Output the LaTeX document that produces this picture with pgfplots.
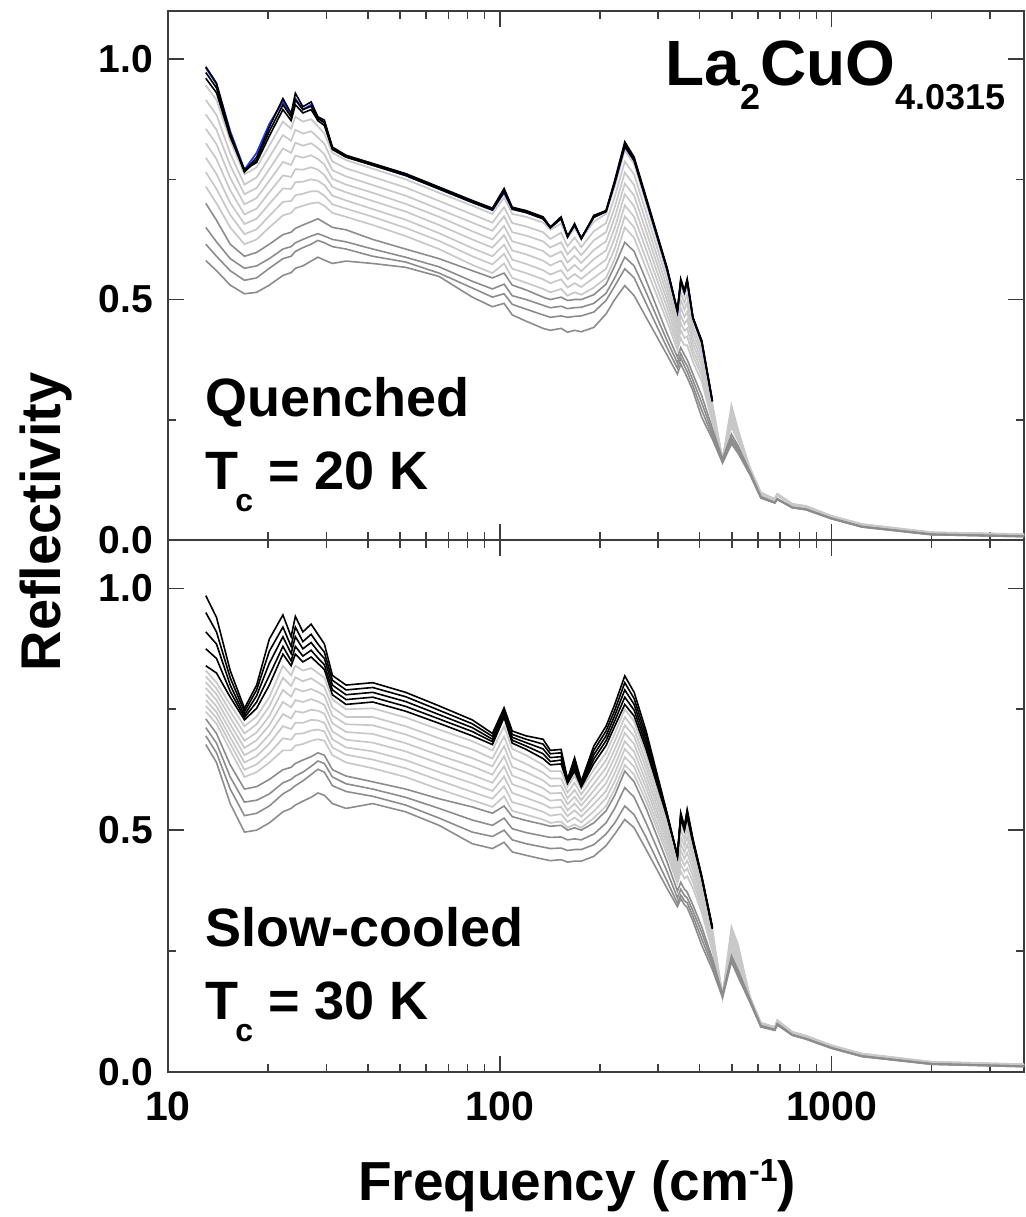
\documentclass[border=0pt]{standalone}
\usepackage{pgfplots}
\pgfplotsset{compat=1.18}
\usepackage{pgfplotstable}
\usepackage{fontspec}
\setmainfont{Liberation Sans}
\definecolor{lg}{RGB}{200,200,200}
\definecolor{dg}{RGB}{140,140,140}
\definecolor{axc}{RGB}{60,60,60}
\definecolor{blu}{RGB}{30,60,230}

\pgfplotstableread{
f k1 k2 k3 bl g1 g2 g3 g4 g5 g6 g7 g8 d1 d2 d3 d4
13 0.984 0.972 0.960 0.982 0.945 0.915 0.885 0.855 0.825 0.795 0.765 0.735 0.700 0.650 0.615 0.581
14 0.950 0.940 0.930 0.948 0.915 0.884 0.853 0.823 0.792 0.761 0.730 0.700 0.665 0.620 0.590 0.560
15.4 0.846 0.842 0.838 0.850 0.830 0.804 0.779 0.753 0.727 0.701 0.676 0.650 0.615 0.585 0.560 0.530
17 0.767 0.765 0.770 0.770 0.760 0.739 0.719 0.698 0.677 0.657 0.636 0.615 0.590 0.565 0.540 0.512
18.5 0.796 0.790 0.785 0.805 0.775 0.754 0.732 0.711 0.689 0.668 0.646 0.625 0.598 0.570 0.545 0.515
20.2 0.859 0.850 0.840 0.865 0.820 0.796 0.771 0.747 0.723 0.699 0.674 0.650 0.615 0.585 0.565 0.530
22.2 0.918 0.905 0.895 0.912 0.870 0.842 0.814 0.786 0.758 0.731 0.703 0.675 0.635 0.605 0.585 0.550
23.5 0.887 0.880 0.872 0.880 0.855 0.830 0.805 0.780 0.755 0.730 0.705 0.680 0.640 0.610 0.590 0.556
24.2 0.929 0.915 0.905 0.918 0.880 0.853 0.826 0.799 0.771 0.744 0.717 0.690 0.648 0.618 0.600 0.565
25.5 0.901 0.895 0.888 0.895 0.870 0.845 0.820 0.795 0.770 0.745 0.720 0.695 0.655 0.625 0.608 0.570
27 0.911 0.902 0.895 0.905 0.875 0.850 0.825 0.800 0.775 0.750 0.725 0.700 0.662 0.632 0.615 0.580
28.3 0.880 0.876 0.872 0.878 0.860 0.837 0.815 0.792 0.770 0.747 0.725 0.702 0.668 0.637 0.623 0.588
29.6 0.873 0.868 0.862 0.868 0.845 0.824 0.802 0.781 0.759 0.738 0.716 0.695 0.660 0.632 0.618 0.582
31.3 0.817 0.815 0.812 0.815 0.805 0.787 0.769 0.751 0.734 0.716 0.698 0.680 0.650 0.625 0.610 0.575
34.4 0.800 0.798 0.796 0.797 0.790 0.773 0.756 0.739 0.723 0.706 0.689 0.672 0.645 0.620 0.605 0.580
41.4 0.783 0.781 0.779 0.780 0.772 0.755 0.738 0.722 0.705 0.688 0.672 0.655 0.625 0.605 0.590 0.575
52 0.762 0.760 0.758 0.758 0.750 0.733 0.716 0.699 0.683 0.666 0.649 0.632 0.605 0.588 0.578 0.567
65.6 0.734 0.732 0.730 0.730 0.722 0.705 0.688 0.672 0.655 0.638 0.622 0.605 0.585 0.568 0.555 0.548
82.6 0.706 0.704 0.702 0.702 0.695 0.677 0.660 0.642 0.625 0.607 0.590 0.572 0.560 0.538 0.524 0.505
95 0.690 0.688 0.686 0.686 0.678 0.660 0.643 0.625 0.608 0.590 0.573 0.555 0.545 0.522 0.505 0.485
103 0.731 0.727 0.724 0.722 0.712 0.692 0.673 0.653 0.634 0.614 0.595 0.575 0.555 0.532 0.512 0.492
109 0.692 0.690 0.688 0.688 0.678 0.659 0.640 0.621 0.602 0.583 0.564 0.545 0.530 0.508 0.490 0.468
120 0.685 0.683 0.681 0.681 0.672 0.652 0.633 0.613 0.594 0.574 0.555 0.535 0.520 0.500 0.480 0.455
135 0.672 0.670 0.668 0.668 0.660 0.640 0.621 0.601 0.581 0.561 0.542 0.522 0.505 0.488 0.468 0.440
142 0.651 0.650 0.649 0.650 0.645 0.626 0.608 0.589 0.571 0.552 0.534 0.515 0.500 0.483 0.463 0.436
153 0.672 0.670 0.668 0.668 0.658 0.639 0.619 0.600 0.581 0.561 0.542 0.522 0.505 0.486 0.466 0.440
160 0.630 0.631 0.632 0.632 0.628 0.611 0.594 0.577 0.559 0.542 0.525 0.508 0.498 0.481 0.463 0.432
168 0.658 0.656 0.654 0.655 0.648 0.629 0.610 0.591 0.572 0.553 0.534 0.515 0.500 0.483 0.465 0.436
176 0.626 0.627 0.628 0.628 0.625 0.609 0.592 0.576 0.559 0.543 0.526 0.510 0.500 0.484 0.466 0.433
192 0.675 0.673 0.671 0.671 0.662 0.642 0.623 0.603 0.584 0.564 0.545 0.525 0.510 0.492 0.474 0.442
209 0.685 0.684 0.683 0.683 0.678 0.659 0.640 0.621 0.602 0.583 0.564 0.545 0.532 0.513 0.498 0.470
222 0.748 0.745 0.742 0.742 0.735 0.714 0.692 0.671 0.649 0.628 0.606 0.585 0.570 0.545 0.528 0.500
238 0.828 0.823 0.818 0.818 0.810 0.787 0.764 0.741 0.719 0.696 0.673 0.650 0.619 0.588 0.564 0.529
254 0.796 0.792 0.789 0.789 0.782 0.760 0.738 0.716 0.694 0.672 0.650 0.628 0.600 0.570 0.545 0.508
276 0.713 0.710 0.707 0.707 0.700 0.681 0.661 0.642 0.623 0.604 0.584 0.565 0.540 0.515 0.492 0.463
319 0.567 0.565 0.563 0.563 0.555 0.541 0.526 0.512 0.498 0.484 0.469 0.455 0.430 0.415 0.400 0.385
343 0.477 0.476 0.475 0.475 0.470 0.459 0.449 0.438 0.427 0.416 0.406 0.395 0.380 0.368 0.357 0.345
351 0.543 0.540 0.537 0.537 0.530 0.514 0.499 0.483 0.467 0.451 0.436 0.420 0.400 0.388 0.378 0.366
360 0.519 0.517 0.515 0.515 0.508 0.493 0.479 0.464 0.449 0.435 0.420 0.405 0.385 0.372 0.362 0.350
367 0.543 0.540 0.537 0.537 0.528 0.510 0.493 0.475 0.458 0.440 0.423 0.405 0.375 0.362 0.350 0.338
382 0.463 0.462 0.461 0.461 0.458 0.445 0.433 0.420 0.408 0.395 0.383 0.370 0.345 0.332 0.320 0.310
406 0.415 0.413 0.411 0.411 0.405 0.394 0.384 0.373 0.362 0.351 0.341 0.330 0.300 0.285 0.270 0.255
437 0.290 0.289 0.288 0.288 0.285 0.279 0.274 0.268 0.262 0.256 0.251 0.245 0.232 0.224 0.216 0.210
469 0.158 0.160 0.162 0.162 0.165 0.166 0.167 0.168 0.169 0.170 0.171 0.172 0.168 0.165 0.162 0.160
499 0.296 0.290 0.285 0.285 0.280 0.274 0.267 0.261 0.254 0.248 0.241 0.235 0.220 0.212 0.206 0.200
523 0.234 0.232 0.230 0.230 0.228 0.225 0.221 0.218 0.215 0.212 0.208 0.205 0.195 0.190 0.185 0.180
569 0.144 0.144 0.144 0.144 0.145 0.145 0.146 0.146 0.147 0.147 0.148 0.148 0.140 0.138 0.136 0.134
612 0.088 0.089 0.090 0.090 0.092 0.093 0.094 0.095 0.096 0.097 0.098 0.099 0.090 0.089 0.088 0.087
674 0.081 0.081 0.081 0.081 0.082 0.082 0.083 0.083 0.084 0.084 0.085 0.085 0.078 0.078 0.077 0.077
686 0.092 0.092 0.091 0.091 0.093 0.093 0.094 0.094 0.095 0.095 0.096 0.096 0.086 0.085 0.085 0.084
761 0.071 0.071 0.071 0.071 0.072 0.072 0.073 0.073 0.074 0.074 0.075 0.075 0.068 0.068 0.067 0.067
837 0.067 0.067 0.067 0.067 0.067 0.068 0.068 0.069 0.069 0.070 0.070 0.071 0.064 0.064 0.063 0.063
1000 0.046 0.046 0.046 0.046 0.047 0.047 0.048 0.048 0.049 0.049 0.050 0.050 0.045 0.045 0.044 0.044
1234 0.029 0.029 0.029 0.029 0.030 0.030 0.031 0.031 0.032 0.032 0.033 0.033 0.028 0.028 0.027 0.027
2000 0.012 0.012 0.012 0.012 0.013 0.013 0.014 0.014 0.015 0.015 0.016 0.016 0.012 0.012 0.011 0.011
3800 0.008 0.008 0.008 0.008 0.009 0.009 0.010 0.010 0.011 0.011 0.012 0.012 0.008 0.008 0.007 0.007
}\toptab

\pgfplotstableread{
f k1 k2 k3 k4 k5 g1 g2 g3 g4 g5 g6 g7 g8 d1 d2 d3 d4
13 0.985 0.950 0.910 0.875 0.840 0.830 0.818 0.806 0.794 0.781 0.769 0.757 0.745 0.730 0.712 0.695 0.677
14 0.940 0.910 0.885 0.855 0.825 0.805 0.793 0.781 0.769 0.756 0.744 0.732 0.720 0.700 0.680 0.660 0.640
15.4 0.830 0.815 0.800 0.787 0.775 0.760 0.746 0.733 0.719 0.706 0.692 0.679 0.665 0.635 0.610 0.585 0.555
17 0.752 0.745 0.738 0.733 0.728 0.715 0.700 0.685 0.670 0.655 0.640 0.625 0.610 0.585 0.558 0.530 0.496
18.5 0.800 0.790 0.778 0.765 0.752 0.735 0.719 0.702 0.686 0.669 0.653 0.636 0.620 0.590 0.562 0.535 0.500
20.2 0.895 0.870 0.845 0.820 0.800 0.775 0.756 0.736 0.717 0.698 0.679 0.659 0.640 0.605 0.575 0.550 0.515
22.2 0.945 0.920 0.900 0.880 0.864 0.840 0.815 0.790 0.765 0.740 0.715 0.690 0.665 0.625 0.598 0.575 0.538
23.5 0.900 0.880 0.865 0.850 0.840 0.820 0.798 0.776 0.754 0.731 0.709 0.687 0.665 0.630 0.605 0.585 0.545
24.2 0.942 0.920 0.900 0.880 0.864 0.840 0.816 0.793 0.769 0.746 0.722 0.699 0.675 0.638 0.612 0.592 0.552
25.5 0.910 0.890 0.875 0.860 0.848 0.830 0.808 0.787 0.765 0.743 0.722 0.700 0.678 0.645 0.620 0.602 0.560
27 0.926 0.905 0.888 0.872 0.858 0.835 0.814 0.792 0.771 0.749 0.728 0.706 0.685 0.652 0.632 0.615 0.568
28.3 0.905 0.885 0.870 0.856 0.845 0.825 0.805 0.786 0.766 0.747 0.727 0.708 0.688 0.660 0.643 0.626 0.577
29.6 0.885 0.868 0.855 0.842 0.832 0.815 0.796 0.778 0.759 0.741 0.722 0.704 0.685 0.655 0.638 0.620 0.572
31.3 0.820 0.810 0.800 0.790 0.780 0.770 0.754 0.737 0.721 0.704 0.688 0.671 0.655 0.625 0.610 0.592 0.555
34.4 0.800 0.790 0.780 0.770 0.760 0.750 0.734 0.719 0.703 0.687 0.671 0.656 0.640 0.612 0.596 0.580 0.545
41.4 0.805 0.795 0.785 0.775 0.765 0.752 0.734 0.717 0.699 0.681 0.663 0.646 0.628 0.600 0.585 0.570 0.555
52 0.785 0.776 0.766 0.756 0.746 0.733 0.715 0.698 0.680 0.663 0.645 0.628 0.610 0.585 0.568 0.552 0.538
65.6 0.757 0.748 0.739 0.730 0.721 0.708 0.690 0.673 0.655 0.638 0.620 0.603 0.585 0.565 0.545 0.525 0.510
82.6 0.728 0.720 0.712 0.704 0.695 0.684 0.667 0.649 0.632 0.614 0.597 0.579 0.562 0.548 0.521 0.496 0.472
95 0.700 0.694 0.688 0.683 0.677 0.665 0.648 0.632 0.615 0.598 0.581 0.565 0.548 0.535 0.510 0.487 0.462
103 0.753 0.748 0.743 0.738 0.733 0.715 0.694 0.674 0.653 0.632 0.611 0.591 0.570 0.550 0.525 0.500 0.475
109 0.705 0.698 0.692 0.686 0.680 0.668 0.650 0.631 0.613 0.595 0.577 0.558 0.540 0.528 0.503 0.480 0.455
120 0.695 0.688 0.681 0.674 0.667 0.655 0.637 0.620 0.602 0.585 0.567 0.550 0.532 0.520 0.495 0.472 0.448
135 0.688 0.678 0.668 0.658 0.648 0.635 0.619 0.603 0.587 0.570 0.554 0.538 0.522 0.512 0.488 0.465 0.440
142 0.665 0.658 0.650 0.642 0.635 0.622 0.607 0.591 0.576 0.561 0.546 0.530 0.515 0.508 0.485 0.462 0.437
153 0.667 0.660 0.652 0.645 0.637 0.622 0.607 0.592 0.577 0.563 0.548 0.533 0.518 0.510 0.486 0.463 0.439
160 0.605 0.603 0.601 0.599 0.597 0.590 0.578 0.566 0.554 0.541 0.529 0.517 0.505 0.500 0.480 0.458 0.434
168 0.650 0.643 0.636 0.629 0.622 0.612 0.598 0.583 0.569 0.555 0.541 0.526 0.512 0.505 0.482 0.460 0.436
176 0.601 0.598 0.595 0.592 0.589 0.585 0.574 0.562 0.551 0.539 0.528 0.516 0.505 0.500 0.480 0.460 0.436
192 0.674 0.665 0.656 0.647 0.638 0.625 0.611 0.596 0.582 0.568 0.554 0.539 0.525 0.515 0.492 0.470 0.446
209 0.715 0.705 0.695 0.685 0.675 0.660 0.644 0.629 0.613 0.597 0.581 0.566 0.550 0.540 0.515 0.492 0.468
222 0.760 0.748 0.737 0.726 0.715 0.700 0.684 0.667 0.651 0.634 0.618 0.601 0.585 0.572 0.545 0.515 0.492
238 0.819 0.805 0.790 0.775 0.760 0.750 0.734 0.717 0.701 0.684 0.668 0.651 0.635 0.622 0.588 0.550 0.522
254 0.785 0.772 0.760 0.748 0.736 0.725 0.709 0.694 0.678 0.662 0.646 0.631 0.615 0.600 0.568 0.532 0.505
276 0.705 0.695 0.685 0.676 0.667 0.655 0.641 0.628 0.614 0.600 0.587 0.573 0.560 0.545 0.515 0.485 0.460
319 0.536 0.534 0.532 0.530 0.528 0.522 0.512 0.501 0.491 0.481 0.471 0.460 0.450 0.435 0.415 0.395 0.380
343 0.446 0.446 0.447 0.448 0.449 0.445 0.437 0.429 0.421 0.414 0.406 0.398 0.390 0.374 0.360 0.349 0.342
351 0.536 0.533 0.530 0.527 0.524 0.515 0.501 0.486 0.472 0.458 0.444 0.429 0.415 0.392 0.378 0.366 0.358
360 0.508 0.506 0.504 0.502 0.500 0.495 0.481 0.468 0.454 0.441 0.427 0.414 0.400 0.378 0.365 0.354 0.346
367 0.543 0.539 0.535 0.531 0.527 0.518 0.502 0.486 0.470 0.453 0.437 0.421 0.405 0.372 0.360 0.350 0.340
382 0.482 0.480 0.478 0.476 0.474 0.468 0.455 0.443 0.430 0.418 0.405 0.393 0.380 0.345 0.333 0.322 0.312
406 0.405 0.404 0.403 0.402 0.401 0.398 0.388 0.379 0.369 0.359 0.349 0.340 0.330 0.300 0.288 0.275 0.262
437 0.300 0.299 0.298 0.297 0.296 0.295 0.289 0.282 0.276 0.269 0.263 0.256 0.250 0.235 0.228 0.220 0.212
469 0.146 0.148 0.150 0.152 0.154 0.155 0.156 0.158 0.159 0.161 0.162 0.164 0.165 0.160 0.158 0.156 0.154
499 0.311 0.305 0.300 0.295 0.290 0.300 0.292 0.284 0.276 0.269 0.261 0.253 0.245 0.240 0.235 0.232 0.228
523 0.265 0.262 0.258 0.255 0.250 0.262 0.255 0.249 0.242 0.235 0.228 0.222 0.215 0.210 0.205 0.200 0.196
569 0.150 0.150 0.150 0.150 0.150 0.150 0.150 0.151 0.151 0.152 0.152 0.153 0.153 0.148 0.146 0.144 0.142
612 0.098 0.098 0.098 0.098 0.098 0.098 0.099 0.099 0.100 0.100 0.101 0.101 0.102 0.096 0.095 0.094 0.093
674 0.090 0.090 0.090 0.090 0.090 0.090 0.090 0.091 0.091 0.092 0.092 0.093 0.093 0.088 0.087 0.087 0.086
686 0.104 0.104 0.104 0.104 0.104 0.104 0.104 0.105 0.105 0.106 0.106 0.107 0.107 0.100 0.099 0.098 0.097
761 0.080 0.080 0.080 0.080 0.080 0.080 0.080 0.081 0.081 0.082 0.082 0.083 0.083 0.077 0.077 0.076 0.076
837 0.072 0.072 0.072 0.072 0.072 0.072 0.072 0.073 0.073 0.074 0.074 0.075 0.075 0.069 0.069 0.068 0.068
1000 0.052 0.052 0.052 0.052 0.052 0.052 0.052 0.053 0.053 0.054 0.054 0.055 0.055 0.050 0.050 0.049 0.049
1234 0.035 0.035 0.035 0.035 0.035 0.035 0.035 0.036 0.036 0.037 0.037 0.038 0.038 0.033 0.033 0.032 0.032
2000 0.018 0.018 0.018 0.018 0.018 0.018 0.018 0.019 0.019 0.020 0.020 0.021 0.021 0.017 0.017 0.016 0.016
3800 0.013 0.013 0.013 0.013 0.013 0.013 0.013 0.014 0.014 0.015 0.015 0.016 0.016 0.012 0.012 0.011 0.011
}\bottab

\pgfplotsset{panel/.style={
  scale only axis, width=428pt,
  xmin=10, xmax=3800, ymin=0, ymax=1.1,
  axis line style={axc, line width=0.8pt},
  every tick/.style={axc, line width=0.8pt},
  major tick length=8pt, minor tick length=4pt,
  ytick={0,0.5,1}, minor ytick={0.25,0.75},
  yticklabels={0.0,0.5,1.0},
  xtick={10,100,1000},
  minor xtick={20,30,40,50,60,70,80,90,200,300,400,500,600,700,800,900,2000,3000},
  yticklabel style={font=\fontsize{19.5}{20}\selectfont\bfseries, xshift=-4pt},
  xticklabel style={font=\fontsize{20.5}{21}\selectfont\bfseries, yshift=-6.5pt},
  /pgf/number format/assume math mode=true,
}}

\begin{document}
\begin{tikzpicture}
\path[use as bounding box] (0pt,0pt) rectangle (513pt,608.5pt);

% top panel
\begin{semilogxaxis}[panel, height=264.5pt, at={(84pt,338.5pt)}, anchor=south west, xticklabels={}]
\pgfplotsinvokeforeach{g8,g7,g6,g5,g4,g3,g2,g1}{\addplot[lg, line width=0.85pt] table[x=f,y=#1]{\toptab};}
\pgfplotsinvokeforeach{d1,d2,d3,d4}{\addplot[dg, line width=0.8pt] table[x=f,y=#1]{\toptab};}
\addplot[blu, line width=0.9pt, skip coords between index={43}{56}] table[x=f,y=bl]{\toptab};
\pgfplotsinvokeforeach{k3,k2,k1}{\addplot[black, line width=0.8pt, skip coords between index={43}{56}] table[x=f,y=#1]{\toptab};}
\end{semilogxaxis}

% bottom panel
\begin{semilogxaxis}[panel, height=266pt, at={(84pt,72.5pt)}, anchor=south west, xticklabels={10,100,1000}]
\pgfplotsinvokeforeach{g8,g7,g6,g5,g4,g3,g2,g1}{\addplot[lg, line width=0.85pt] table[x=f,y=#1]{\bottab};}
\pgfplotsinvokeforeach{d1,d2,d3,d4}{\addplot[dg, line width=0.8pt] table[x=f,y=#1]{\bottab};}
\pgfplotsinvokeforeach{k5,k4,k3,k2,k1}{\addplot[black, line width=0.8pt, skip coords between index={43}{56}] table[x=f,y=#1]{\bottab};}
\end{semilogxaxis}

% texts
\node[anchor=base west, inner sep=0pt, font=\fontsize{32}{32}\selectfont\bfseries] at (332.5pt,565.5pt)
  {La\raisebox{-12pt}{\fontsize{18}{18}\selectfont\bfseries 2}CuO\raisebox{-12pt}{\fontsize{18}{18}\selectfont\bfseries 4.0315}};

\node[anchor=base west, inner sep=0pt, font=\fontsize{27}{27}\selectfont\bfseries] at (102.5pt,400pt) {Quenched};
\node[anchor=base west, inner sep=0pt, font=\fontsize{27}{27}\selectfont\bfseries] at (102.5pt,363.5pt)
  {T\kern-1.5pt\raisebox{-11pt}{\fontsize{16}{16}\selectfont\bfseries c} = 20 K};

\node[anchor=base west, inner sep=0pt, font=\fontsize{27}{27}\selectfont\bfseries] at (102.5pt,135pt) {Slow-cooled};
\node[anchor=base west, inner sep=0pt, font=\fontsize{27}{27}\selectfont\bfseries] at (102.5pt,98.5pt)
  {T\kern-1.5pt\raisebox{-11pt}{\fontsize{16}{16}\selectfont\bfseries c} = 30 K};

\node[rotate=90, anchor=base, inner sep=0pt, font=\fontsize{28}{28}\selectfont\bfseries] at (30pt,347.5pt) {Reflectivity};

\node[anchor=base, inner sep=0pt, font=\fontsize{27.5}{28}\selectfont\bfseries] at (288.5pt,8.5pt)
  {Frequency (cm\raisebox{9pt}{\fontsize{16}{16}\selectfont\bfseries -1})};
\end{tikzpicture}
\end{document}
